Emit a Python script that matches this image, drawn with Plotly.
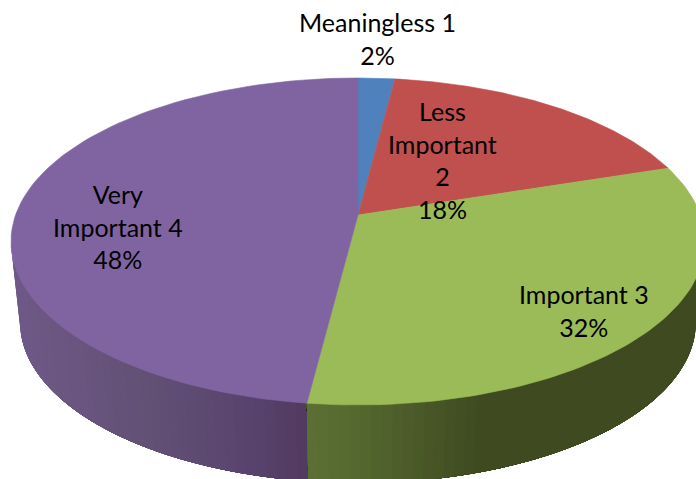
import numpy as np
import plotly.graph_objects as go

categories = ["Meaningless 1", "Less Important 2", "Important 3", "Very Important 4"]
values = [2, 18, 32, 48]
label_text = ["Meaningless 1<br>2%", "Less<br>Important<br>2<br>18%", "Important 3<br>32%", "Very<br>Important 4<br>48%"]
label_x = [377, 442, 584, 118]
label_y = [38, 160, 310, 226]
top_colors = ["#4f81bd", "#c0504d", "#9bbb59", "#8064a2"]
wall_stops = {
    2: [(305, "#5c6f33"), (350, "#566a30"), (480, "#3f4a21"), (700, "#3f4a21")],
    3: [(10, "#6f5988"), (150, "#625074"), (250, "#58436d"), (305, "#523a60")],
}

W, H = 696, 479
K = 0.162
CX = 358


def project(theta, y0, rx, ry):
    """theta in radians clockwise from the back of the disc."""
    u, v = np.sin(theta), np.cos(theta)
    w = 1 + K * v
    a = rx * np.sqrt(1 - K ** 2)
    b = ry * (1 - K ** 2)
    return CX + a * u / w, y0 - b * v / w


TOP = dict(y0=215, rx=347, ry=163.5)
BOT = dict(y0=296, rx=338, ry=161)


def lerp_color(stops, x):
    xs = [s[0] for s in stops]
    rgb = np.array([[int(s[1][i:i + 2], 16) for i in (1, 3, 5)] for s in stops])
    c = [np.interp(x, xs, rgb[:, j]) for j in range(3)]
    return "rgb(%d,%d,%d)" % tuple(int(round(v)) for v in c)


edges = np.concatenate([[0], np.cumsum(values)]) / sum(values) * 2 * np.pi
fig = go.Figure()


def poly(xs, ys, color, width=0.6):
    fig.add_trace(go.Scatter(x=xs, y=ys, mode="lines", fill="toself", fillcolor=color,
                             line=dict(color=color, width=width), hoverinfo="skip", showlegend=False))


# side wall: painter's order, each band runs on under the next one so no seams show
front_a = np.arccos(-K)
front_b = 2 * np.pi - front_a
for i in (3, 2):
    start, end = max(edges[i], front_a), min(edges[i + 1], front_b)
    n = max(int((end - start) / np.radians(1.5)), 1)
    th = np.linspace(start, end, n + 1)
    order = range(n) if i == 2 else range(n - 1, -1, -1)
    for j in order:
        t0, t1 = th[j], th[j + 1]
        tt = np.linspace(t0, end, 40) if i == 2 else np.linspace(start, t1, 40)
        xt, yt = project(tt, **TOP)
        xb, yb = project(tt[::-1], **BOT)
        xm = project(np.array([(t0 + t1) / 2]), **TOP)[0][0]
        poly(list(xt) + list(xb) + [xt[0]], list(yt) + list(yb) + [yt[0]],
             lerp_color(wall_stops[i], float(xm)), width=0)

# top face
for i in range(len(values)):
    th = np.linspace(edges[i], edges[i + 1], 90)
    x, y = project(th, **TOP)
    poly([CX] + list(x) + [CX], [TOP["y0"]] + list(y) + [TOP["y0"]], top_colors[i])

for t, x, y in zip(label_text, label_x, label_y):
    fig.add_annotation(x=x, y=y, text=t, showarrow=False, align="center",
                       font=dict(family="Lato", size=25, color="#000000"))

fig.update_layout(width=W, height=H, margin=dict(l=0, r=0, t=0, b=0),
                  paper_bgcolor="white", plot_bgcolor="white",
                  xaxis=dict(range=[0, W], visible=False, fixedrange=True),
                  yaxis=dict(range=[H, 0], visible=False, fixedrange=True))

fig.write_html("out.html", config={"displayModeBar": False},
               post_script="document.body.style.margin='0';")
